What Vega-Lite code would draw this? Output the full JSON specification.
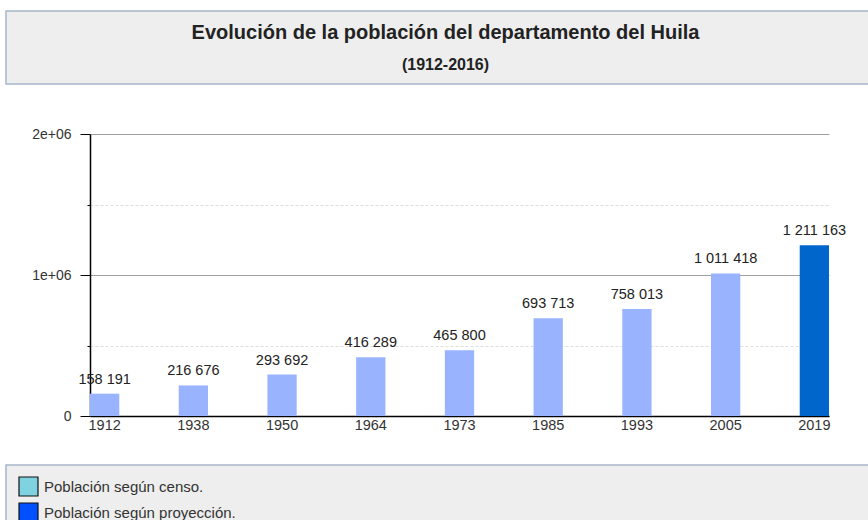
{
  "$schema": "https://vega.github.io/schema/vega-lite/v6.json",
  "background": "white",
  "padding": {"left": 5, "top": 10, "right": 0, "bottom": 0},
  "config": {
    "font": "Liberation Sans",
    "locale": {"number": {"decimal": ",", "thousands": " ", "grouping": [3], "currency": ["", ""]}},
    "view": {"stroke": null}
  },
  "spacing": 0,
  "resolve": {"scale": {"color": "independent"}, "legend": {"color": "independent"}},
  "vconcat": [
    {
      "width": 863,
      "height": 73,
      "view": {"fill": "#eeeeee", "stroke": "#a7b7cc", "strokeWidth": 1.5},
      "data": {"values": [
        {"line": 1, "text": "Evolución de la población del departamento del Huila"},
        {"line": 2, "text": "(1912-2016)"}
      ]},
      "encoding": {
        "y": {"field": "line", "type": "ordinal", "axis": null,
              "scale": {"type": "point", "domain": [1, 2], "padding": 0.64, "align": 0.537}},
        "text": {"field": "text", "type": "nominal"}
      },
      "layer": [
        {"transform": [{"filter": "datum.line == 1"}],
         "mark": {"type": "text", "fontSize": 20, "fontWeight": "bold", "color": "#222222", "baseline": "middle", "dx": 8}},
        {"transform": [{"filter": "datum.line == 2"}],
         "mark": {"type": "text", "fontSize": 16, "fontWeight": "bold", "color": "#222222", "baseline": "middle", "dx": 8}}
      ]
    },
    {
      "spacing": 0,
      "hconcat": [
        {
          "width": 1,
          "height": 1,
          "data": {"values": []},
          "mark": {"type": "point", "opacity": 0},
          "encoding": {}
        },
        {
          "width": 739,
          "height": 282,
          "data": {"values": [
            {"anio": "1912", "poblacion": 158191, "tipo": "censo"},
            {"anio": "1938", "poblacion": 216676, "tipo": "censo"},
            {"anio": "1950", "poblacion": 293692, "tipo": "censo"},
            {"anio": "1964", "poblacion": 416289, "tipo": "censo"},
            {"anio": "1973", "poblacion": 465800, "tipo": "censo"},
            {"anio": "1985", "poblacion": 693713, "tipo": "censo"},
            {"anio": "1993", "poblacion": 758013, "tipo": "censo"},
            {"anio": "2005", "poblacion": 1011418, "tipo": "censo"},
            {"anio": "2019", "poblacion": 1211163, "tipo": "proyección"}
          ]},
          "encoding": {
            "x": {"field": "anio", "type": "ordinal", "sort": null,
                  "scale": {"paddingInner": 0.67, "paddingOuter": 0},
                  "axis": {"title": "\u00a0", "titleFontSize": 1, "titleX": 0, "titleY": 48, "titleBaseline": "bottom", "titleAlign": "left",
                           "labelAngle": 0, "ticks": false, "domainColor": "#000000", "domainWidth": 1.5,
                           "labelFontSize": 14.5, "labelColor": "#333333", "labelPadding": 2}},
            "y": {"field": "poblacion", "type": "quantitative",
                  "scale": {"domain": [0, 2000000], "nice": false},
                  "axis": {"title": "\u00a0", "titleFontSize": 1, "titleAngle": 0, "titleX": -83, "titleY": -49, "titleBaseline": "top", "titleAlign": "left",
                           "values": [0, 500000, 1000000, 1500000, 2000000],
                           "labelExpr": "datum.value == 0 ? '0' : datum.value == 1000000 ? '1e+06' : datum.value == 2000000 ? '2e+06' : ''",
                           "grid": true,
                           "gridColor": {"condition": {"test": "datum.value % 1000000 == 0", "value": "#a0a0a0"}, "value": "#dddddd"},
                           "gridDash": {"condition": {"test": "datum.value % 1000000 == 0", "value": []}, "value": [3, 2]},
                           "tickSize": {"condition": {"test": "datum.value % 1000000 == 0", "value": 10}, "value": 3},
                           "tickColor": "#000000",
                           "domainColor": "#000000", "domainWidth": 1.5,
                           "labelFontSize": 14, "labelColor": "#333333", "labelPadding": 9}}
          },
          "layer": [
            {"mark": {"type": "bar"},
             "encoding": {"color": {"field": "tipo", "type": "nominal",
                                    "scale": {"domain": ["censo", "proyección"], "range": ["#99b3ff", "#0066cc"]},
                                    "legend": null}}},
            {"mark": {"type": "text", "baseline": "alphabetic", "dy": -10, "fontSize": 14.5, "color": "#222222"},
             "encoding": {"text": {"field": "poblacion", "type": "quantitative", "format": ",d"}}}
          ]
        }
      ]
    },
    {
      "width": 863,
      "height": 58,
      "view": {"fill": "#eeeeee", "stroke": "#a7b7cc", "strokeWidth": 1.5},
      "data": {"values": [
        {"serie": "Población según censo."},
        {"serie": "Población según proyección."}
      ]},
      "mark": {"type": "square", "opacity": 0},
      "encoding": {
        "color": {"field": "serie", "type": "nominal",
                  "scale": {"domain": ["Población según censo.", "Población según proyección."], "range": ["#7fd3e0", "#0050ff"]},
                  "legend": {"title": null, "orient": "none", "legendX": 12, "legendY": 11,
                             "symbolType": "square", "symbolSize": 361, "rowPadding": 1,
                             "labelFontSize": 15, "labelColor": "#333333", "labelOffset": 5, "labelLimit": 400,
                             "encode": {"symbols": {"update": {"opacity": {"value": 1}, "stroke": {"value": "#111111"}, "strokeWidth": {"value": 1.2}}}}}}
      }
    }
  ]
}
